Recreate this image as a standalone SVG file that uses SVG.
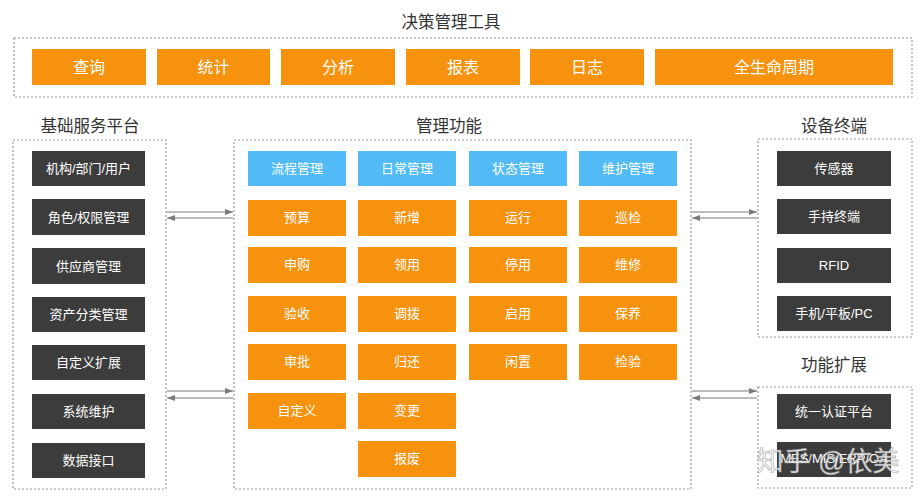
<svg xmlns="http://www.w3.org/2000/svg" width="924" height="500" viewBox="0 0 924 500">
<defs>
<style>
text{font-family:"Liberation Sans","Noto Sans CJK SC",sans-serif;text-anchor:middle;}
.frame{fill:none;stroke:#9a9a9a;stroke-width:1.2;stroke-dasharray:2 2;}
.org{fill:#F7920F;}
.blu{fill:#52BBF5;}
.drk{fill:#3C3C3C;}
.tw{fill:#ffffff;font-size:13px;}
.tt{fill:#ffffff;font-size:16px;}
.hd{fill:#333333;font-size:16.5px;}
.cn{stroke:#7a7a7a;stroke-width:1.2;fill:none;}
</style>
<marker id="ah" viewBox="0 0 8 6" refX="8" refY="3" markerWidth="8" markerHeight="6" markerUnits="userSpaceOnUse" orient="auto">
<path d="M0,0 L8,3 L0,6 z" fill="#7a7a7a"/>
</marker>
</defs>
<rect width="924" height="500" fill="#ffffff"/>

<g id="frames">
<rect class="frame" x="14" y="38" width="898" height="59"/>
<rect class="frame" x="13" y="140" width="153" height="349"/>
<rect class="frame" x="234" y="140" width="457" height="349"/>
<rect class="frame" x="758" y="139" width="154" height="198"/>
<rect class="frame" x="758" y="387" width="154" height="101"/>
</g>

<g id="labels">
<text class="hd" x="451" y="28" font-size="17">决策管理工具</text>
<text class="hd" x="90" y="132">基础服务平台</text>
<text class="hd" x="449" y="132">管理功能</text>
<text class="hd" x="834" y="132">设备终端</text>
<text class="hd" x="834" y="371">功能扩展</text>
</g>

<g id="tools">
<g id="t1"><rect class="org" x="32" y="49" width="114" height="36"/><text class="tt" x="89" y="73">查询</text></g>
<g id="t2"><rect class="org" x="157" y="49" width="113" height="36"/><text class="tt" x="213.5" y="73">统计</text></g>
<g id="t3"><rect class="org" x="281" y="49" width="114" height="36"/><text class="tt" x="338" y="73">分析</text></g>
<g id="t4"><rect class="org" x="406" y="49" width="114" height="36"/><text class="tt" x="463" y="73">报表</text></g>
<g id="t5"><rect class="org" x="530" y="49" width="114" height="36"/><text class="tt" x="587" y="73">日志</text></g>
<g id="t6"><rect class="org" x="655" y="49" width="238" height="36"/><text class="tt" x="774" y="73">全生命周期</text></g>
</g>

<g id="base">
<g id="b1"><rect class="drk" x="32" y="151" width="113" height="35"/><text class="tw" x="88.5" y="173">机构/部门/用户</text></g>
<g id="b2"><rect class="drk" x="32" y="199" width="113" height="36"/><text class="tw" x="88.5" y="222">角色/权限管理</text></g>
<g id="b3"><rect class="drk" x="32" y="248" width="113" height="36"/><text class="tw" x="88.5" y="271">供应商管理</text></g>
<g id="b4"><rect class="drk" x="32" y="297" width="113" height="35"/><text class="tw" x="88.5" y="319">资产分类管理</text></g>
<g id="b5"><rect class="drk" x="32" y="345" width="113" height="35"/><text class="tw" x="88.5" y="367">自定义扩展</text></g>
<g id="b6"><rect class="drk" x="32" y="394" width="113" height="35"/><text class="tw" x="88.5" y="416">系统维护</text></g>
<g id="b7"><rect class="drk" x="32" y="443" width="113" height="35"/><text class="tw" x="88.5" y="465">数据接口</text></g>
</g>

<g id="mgmt">
<g id="h1"><rect class="blu" x="248" y="151" width="98" height="35"/><text class="tw" x="297" y="173">流程管理</text></g>
<g id="h2"><rect class="blu" x="358" y="151" width="98" height="35"/><text class="tw" x="407" y="173">日常管理</text></g>
<g id="h3"><rect class="blu" x="469" y="151" width="98" height="35"/><text class="tw" x="518" y="173">状态管理</text></g>
<g id="h4"><rect class="blu" x="579" y="151" width="98" height="35"/><text class="tw" x="628" y="173">维护管理</text></g>

<g id="m11"><rect class="org" x="248" y="200" width="98" height="36"/><text class="tw" x="297" y="222">预算</text></g>
<g id="m12"><rect class="org" x="248" y="247" width="98" height="36"/><text class="tw" x="297" y="269">申购</text></g>
<g id="m13"><rect class="org" x="248" y="296" width="98" height="36"/><text class="tw" x="297" y="318">验收</text></g>
<g id="m14"><rect class="org" x="248" y="344" width="98" height="36"/><text class="tw" x="297" y="366">审批</text></g>
<g id="m15"><rect class="org" x="248" y="393" width="98" height="36"/><text class="tw" x="297" y="415">自定义</text></g>

<g id="m21"><rect class="org" x="358" y="200" width="98" height="36"/><text class="tw" x="407" y="222">新增</text></g>
<g id="m22"><rect class="org" x="358" y="247" width="98" height="36"/><text class="tw" x="407" y="269">领用</text></g>
<g id="m23"><rect class="org" x="358" y="296" width="98" height="36"/><text class="tw" x="407" y="318">调拨</text></g>
<g id="m24"><rect class="org" x="358" y="344" width="98" height="36"/><text class="tw" x="407" y="366">归还</text></g>
<g id="m25"><rect class="org" x="358" y="393" width="98" height="36"/><text class="tw" x="407" y="415">变更</text></g>
<g id="m26"><rect class="org" x="358" y="441" width="98" height="36"/><text class="tw" x="407" y="463">报废</text></g>

<g id="m31"><rect class="org" x="469" y="200" width="98" height="36"/><text class="tw" x="518" y="222">运行</text></g>
<g id="m32"><rect class="org" x="469" y="247" width="98" height="36"/><text class="tw" x="518" y="269">停用</text></g>
<g id="m33"><rect class="org" x="469" y="296" width="98" height="36"/><text class="tw" x="518" y="318">启用</text></g>
<g id="m34"><rect class="org" x="469" y="344" width="98" height="36"/><text class="tw" x="518" y="366">闲置</text></g>

<g id="m41"><rect class="org" x="579" y="200" width="98" height="36"/><text class="tw" x="628" y="222">巡检</text></g>
<g id="m42"><rect class="org" x="579" y="247" width="98" height="36"/><text class="tw" x="628" y="269">维修</text></g>
<g id="m43"><rect class="org" x="579" y="296" width="98" height="36"/><text class="tw" x="628" y="318">保养</text></g>
<g id="m44"><rect class="org" x="579" y="344" width="98" height="36"/><text class="tw" x="628" y="366">检验</text></g>
</g>

<g id="devices">
<g id="d1"><rect class="drk" x="777" y="151" width="114" height="35"/><text class="tw" x="834" y="173">传感器</text></g>
<g id="d2"><rect class="drk" x="777" y="199" width="114" height="35"/><text class="tw" x="834" y="221">手持终端</text></g>
<g id="d3"><rect class="drk" x="777" y="248" width="114" height="35"/><text class="tw" x="834" y="270">RFID</text></g>
<g id="d4"><rect class="drk" x="777" y="296" width="114" height="35"/><text class="tw" x="834" y="318">手机/平板/PC</text></g>
</g>

<g id="ext">
<g id="e1"><rect class="drk" x="777" y="394" width="114" height="35"/><text class="tw" x="834" y="416">统一认证平台</text></g>
<g id="e2"><rect class="drk" x="777" y="442" width="114" height="35"/><text class="tw" x="834" y="463" font-size="10">MES/MIS/ERP/OA</text></g>
</g>

<g id="connectors">
<line class="cn" x1="167" y1="212" x2="233" y2="212" marker-end="url(#ah)"/>
<line class="cn" x1="233" y1="218" x2="167" y2="218" marker-end="url(#ah)"/>
<line class="cn" x1="167" y1="391" x2="233" y2="391" marker-end="url(#ah)"/>
<line class="cn" x1="233" y1="398" x2="167" y2="398" marker-end="url(#ah)"/>
<line class="cn" x1="692" y1="212" x2="757" y2="212" marker-end="url(#ah)"/>
<line class="cn" x1="757" y1="218" x2="692" y2="218" marker-end="url(#ah)"/>
<line class="cn" x1="692" y1="391" x2="757" y2="391" marker-end="url(#ah)"/>
<line class="cn" x1="757" y1="398" x2="692" y2="398" marker-end="url(#ah)"/>
</g>

<g id="watermark">
<text x="828" y="471" font-size="27" fill="#ffffff" fill-opacity="0.85" stroke="#8a8a8a" stroke-width="0.8" stroke-opacity="0.6">知乎 @依美</text>
</g>
</svg>
